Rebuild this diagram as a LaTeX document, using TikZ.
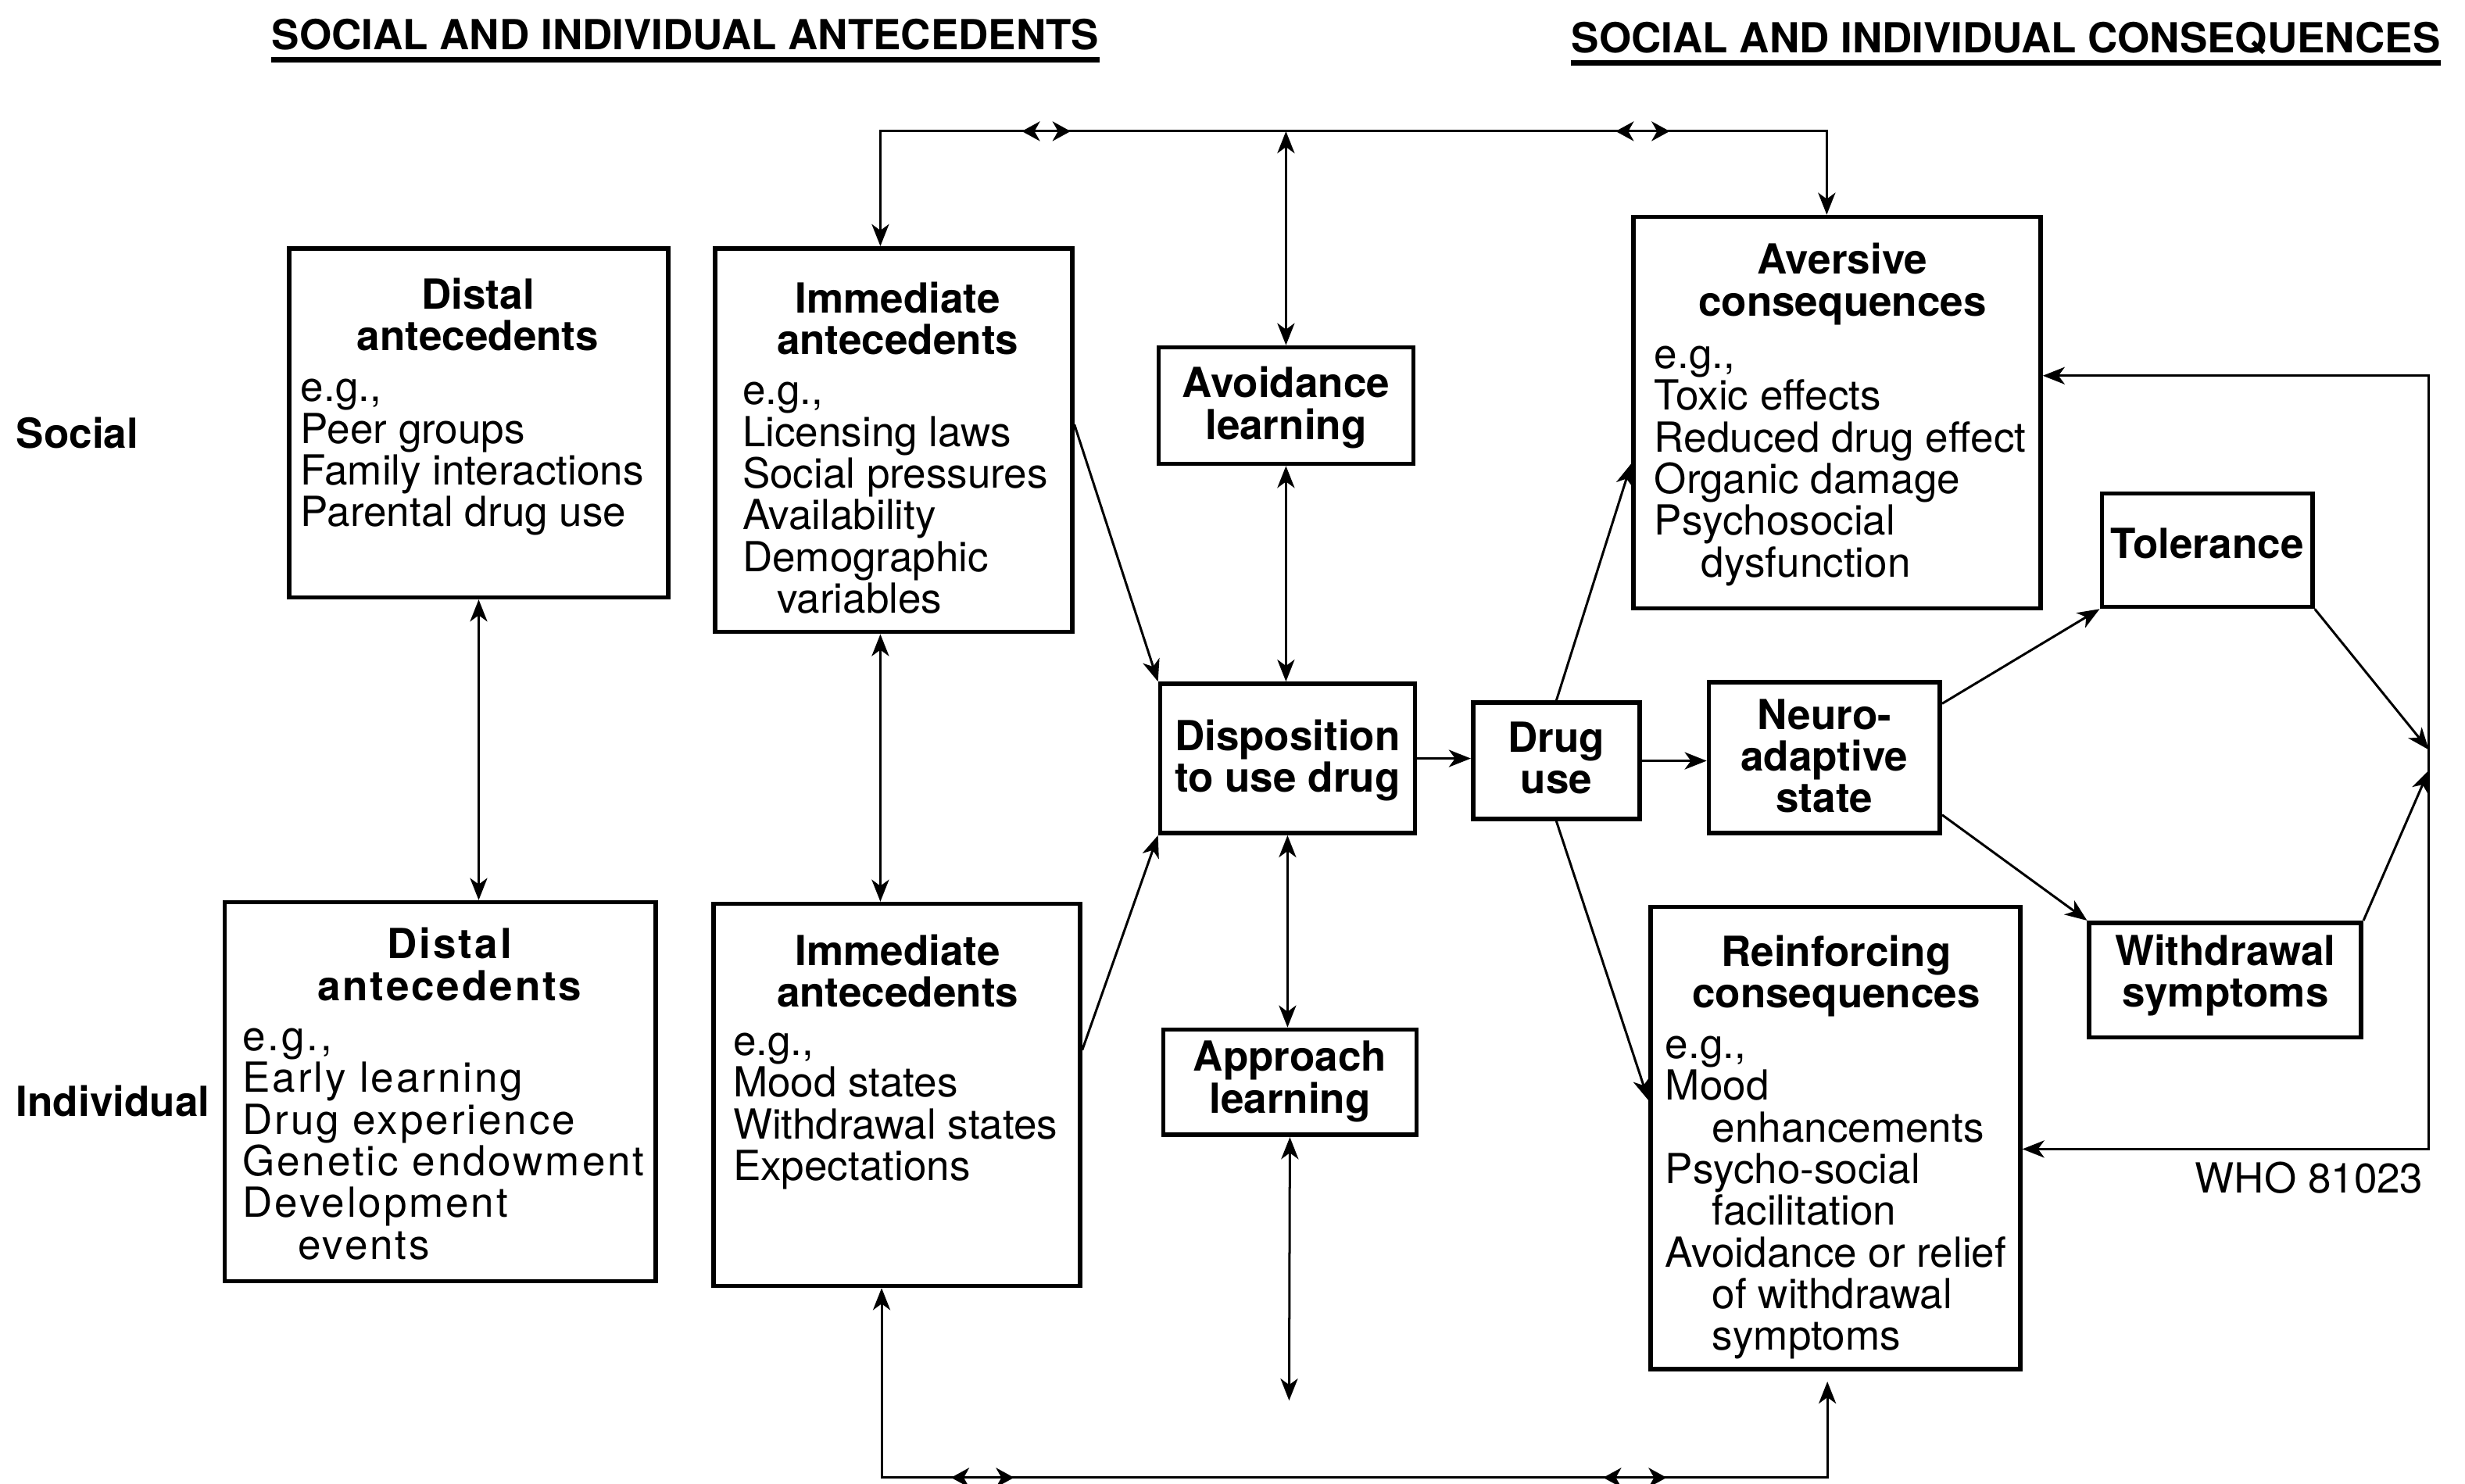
\documentclass[tikz,border=0pt]{standalone}
\usepackage{fontspec}
\setmainfont{TeX Gyre Heros}
\usetikzlibrary{arrows.meta,fit,decorations.markings}

\begin{document}
\begin{tikzpicture}[
  x=0.02cm, y=-0.02cm,
  font=\fontsize{15}{15.1}\selectfont,
  box/.style={draw,line width=1.6pt,inner sep=0pt},
  hd/.style={align=center,inner sep=0pt,anchor=base,
             font=\fontsize{15}{15.1}\selectfont\bfseries},
  lst/.style={align=left,inner sep=0pt,anchor=base west},
  rl/.style={inner sep=0pt,anchor=base west,font=\fontsize{15}{15.1}\selectfont\bfseries},
  ln/.style={line width=0.85pt},
  >={Stealth[length=2.8mm,width=2.2mm,inset=0.8mm]},
  ticks/.style n args={4}{postaction={decorate},decoration={markings,
      mark=at position #1 with {\arrowreversed{Stealth[length=2.3mm,width=2.5mm,inset=0.7mm]}},
      mark=at position #2 with {\arrow{Stealth[length=2.3mm,width=2.5mm,inset=0.7mm]}},
      mark=at position #3 with {\arrowreversed{Stealth[length=2.3mm,width=2.5mm,inset=0.7mm]}},
      mark=at position #4 with {\arrow{Stealth[length=2.3mm,width=2.5mm,inset=0.7mm]}}}}
]
\useasboundingbox (0,0) rectangle (1568,944);

% ---- headings and row labels ----
\node[hd] (h1) at (436,31.5) {SOCIAL AND INDIVIDUAL ANTECEDENTS};
\node[hd] (h2) at (1276,33.5) {SOCIAL AND INDIVIDUAL CONSEQUENCES};
\draw[line width=2pt] ([yshift=-1.3mm]h1.base west) -- ([yshift=-1.3mm]h1.base east);
\draw[line width=2pt] ([yshift=-1.3mm]h2.base west) -- ([yshift=-1.3mm]h2.base east);
\node[rl] (soc) at (10,285) {Social};
\node[rl] (ind) at (10,710) {Individual};
\node[inner sep=0pt,anchor=base west] (who) at (1396,759) {WHO 81023};

% ---- antecedents (text nodes sit on their last line) ----
\node[box,fit={(184,158) (425,380)}] (dsoc) {};
\node[hd] (dsoc-h) at (304,223) {Distal\\antecedents};
\node[lst] (dsoc-l) at (191,335) {e.g.,\\Peer groups\\Family interactions\\Parental drug use};

\node[box,fit={(455,158) (682,402)}] (isoc) {};
\node[hd] (isoc-h) at (571,225.5) {Immediate\\antecedents};
\node[lst] (isoc-l) at (472,390) {e.g.,\\Licensing laws\\Social pressures\\Availability\\Demographic\\\hspace*{12.5pt}variables};

\node[box,fit={(143,574) (417,815)}] (dind) {};
\node[hd,font=\fontsize{15}{15.1}\selectfont\bfseries\addfontfeature{LetterSpace=5.5}]
  (dind-h) at (286,636.5) {Distal\\antecedents};
\node[lst,font=\fontsize{15}{15.1}\selectfont\addfontfeature{LetterSpace=5.5}]
  (dind-l) at (154,801) {e.g.,\\Early learning\\Drug experience\\Genetic endowment\\Development\\\hspace*{20pt}events};

\node[box,fit={(454,575) (687,818)}] (iind) {};
\node[hd] (iind-h) at (571,640.5) {Immediate\\antecedents};
\node[lst] (iind-l) at (466,751) {e.g.,\\Mood states\\Withdrawal states\\Expectations};

% ---- learning and drug use ----
\node[box,fit={(737,221) (899,295)}] (avoid) {};
\node[hd] (avoid-t) at (818,279.5) {Avoidance\\learning};
\node[box,fit={(738,435) (900,530)}] (dispo) {};
\node[hd] (dispo-t) at (819,504) {Disposition\\to use drug};
\node[box,fit={(740,655) (901,722)}] (appro) {};
\node[hd] (appro-t) at (820.5,708) {Approach\\learning};
\node[box,fit={(937,447) (1043,521)}] (druguse) {};
\node[hd] (druguse-t) at (990,505) {Drug\\use};
\node[box,fit={(1087,434) (1234,530)}] (neuro) {};
\node[hd] (neuro-t) at (1160.5,517) {Neuro-\\adaptive\\state};
\node[box,fit={(1337,314) (1471,386)}] (toler) {};
\node[hd] (toler-t) at (1404,355) {Tolerance};
\node[box,fit={(1329,587) (1502,660)}] (withd) {};
\node[hd] (withd-t) at (1415.5,640.5) {Withdrawal\\symptoms};

% ---- consequences ----
\node[box,fit={(1039,138) (1298,387)}] (avers) {};
\node[hd] (avers-h) at (1172,201) {Aversive\\consequences};
\node[lst] (avers-l) at (1052,367) {e.g.,\\Toxic effects\\Reduced drug effect\\Organic damage\\Psychosocial\\\hspace*{17pt}dysfunction};

\node[box,fit={(1050,577) (1285,871)}] (reinf) {};
\node[hd] (reinf-h) at (1168,641) {Reinforcing\\consequences};
\node[lst] (reinf-l) at (1059,859) {e.g.,\\Mood\\\hspace*{17pt}enhancements\\Psycho-social\\\hspace*{17pt}facilitation\\Avoidance or relief\\\hspace*{17pt}of withdrawal\\\hspace*{17pt}symptoms};

% ---- top and bottom links ----
\coordinate (tl) at (560,83.5);
\coordinate (tr) at (1162,83.5);
\coordinate (bl) at (560.8,940);
\coordinate (br) at (1162.4,940);
\coordinate (aend) at (820,891);
\draw[ln,<->] (isoc.north -| tl) -- (tl) -- (tr) -- (avers.north -| tr);
\draw[ln,ticks={0.1495}{0.201}{0.777}{0.834}] (tl) -- (tr);
\draw[ln,<->] (avoid.north |- tl) -- (avoid.north);
\draw[ln,<->,shorten >=1.3mm] (iind.south -| bl) -- (bl) -- (br) -- (reinf.south -| br);
\draw[ln,ticks={0.0735}{0.14}{0.763}{0.83}] (bl) -- (br);
\draw[ln,<->] (appro.south) -- (aend);

% ---- antecedents to disposition ----
\draw[ln,<->] (dsoc.south) -- (dsoc.south |- dind.north);
\draw[ln,<->] (isoc.south -| tl) -- (iind.north -| tl);
\draw[ln,->] ([yshift=2mm]isoc.east) -- (dispo.north west);
\draw[ln,->] ([yshift=5.7mm]iind.east) -- (dispo.south west);
\draw[ln,<->] (avoid.south) -- (avoid.south |- dispo.north);
\draw[ln,<->] (dispo.south) -- (dispo.south |- appro.north);
\draw[ln,->] (dispo.east) -- (dispo.east -| druguse.west);

% ---- drug use to consequences ----
\draw[ln,->] (druguse.east) -- (druguse.east -| neuro.west);
\draw[ln,->] (druguse.north) -- ([yshift=-6.5mm]avers.west);
\draw[ln,->] (druguse.south) -- ([yshift=4.8mm]reinf.west);
\draw[ln,->] ([yshift=-3mm]neuro.north east) -- (toler.south west);
\draw[ln,->] ([yshift=2.6mm]neuro.south east) -- (withd.north west);

% ---- feedback loop on the right ----
\coordinate (rt) at (1545,239);
\coordinate (rb) at (1545,731);
\coordinate (fb1) at (1545,477);
\coordinate (fb2) at (1545,490);
\draw[ln,<->] (avers.east |- rt) -- (rt) -- (rb) -- (reinf.east |- rb);
\draw[ln,->] (toler.south east) -- (fb1);
\draw[ln,->] (withd.north east) -- (fb2);
\end{tikzpicture}
\end{document}
